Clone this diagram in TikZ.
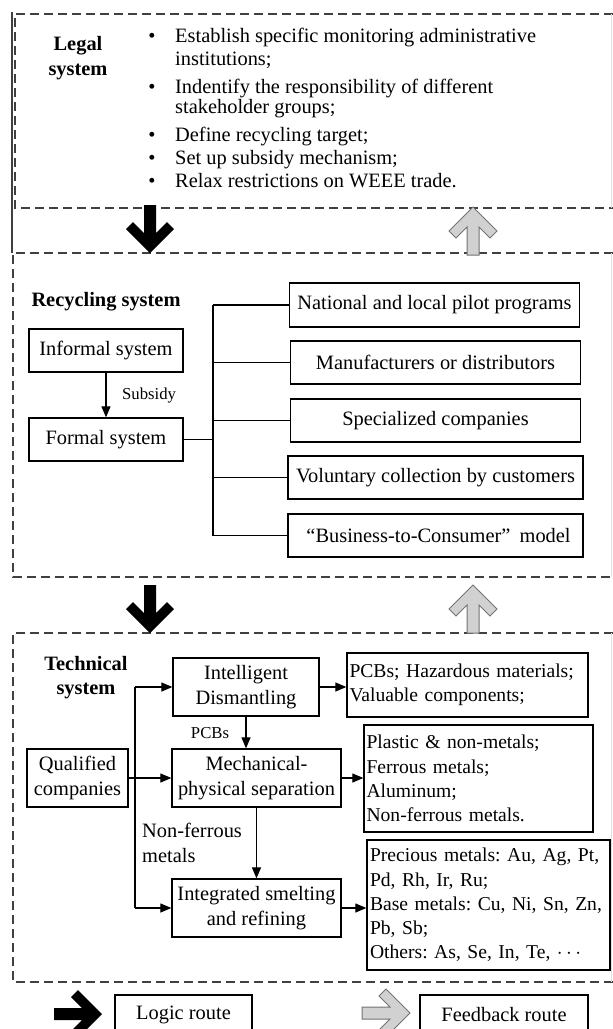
\documentclass[tikz,border=0pt]{standalone}
\usepackage{fontspec}
\setmainfont{Liberation Serif}
\usetikzlibrary{arrows.meta}
\frenchspacing
\newcommand\mainfnt{\fontsize{20.4pt}{24.3pt}\selectfont\frenchspacing}
\newcommand\listfnt{\fontsize{19.6pt}{24.3pt}\selectfont\frenchspacing}
\newcommand\smallfnt{\fontsize{16.7pt}{20pt}\selectfont}
\tikzset{
  blkarrow/.pic={\fill[black] (0,0) -- (-24,-24) -- (-17,-31) -- (-6,-20) -- (-6,-48) -- (6,-48) -- (6,-20) -- (17,-31) -- (24,-24) -- cycle;},
  gryarrow/.pic={\filldraw[fill=black!18, draw=black!55, line width=1pt] (0,0) -- (-24,-24) -- (-17,-31) -- (-6,-20) -- (-6,-48) -- (6,-48) -- (6,-20) -- (17,-31) -- (24,-24) -- cycle;}
}
\begin{document}
\begin{tikzpicture}[x=1pt,y=-1pt,
  box/.style={draw, line width=1.3pt, inner sep=0pt, align=center, font=\mainfnt},
  lbox/.style={draw, line width=1.3pt, inner ysep=0pt, inner xsep=2.5pt, align=left, font=\listfnt},
  txt/.style={inner sep=0pt, font=\mainfnt},
  btxt/.style={inner sep=0pt, font=\mainfnt\bfseries, align=center},
  lbl/.style={inner sep=0pt, font=\smallfnt},
  conn/.style={line width=1.2pt},
  arr/.style={line width=1.2pt, -{Triangle[length=11pt,width=9pt]}},
  sysframe/.style={line width=1.5pt, black!75, dash pattern=on 9pt off 5pt},
]
\useasboundingbox (0,0) rectangle (613,1029);
\begin{scope}
\clip (0,0) rectangle (613,1029);

% ---------- frames ----------
\draw[sysframe] (613,14) -- (15,14) -- (15,208) -- (613,208);
\draw[black!75, line width=1.3pt] (12,12) -- (12,253);
\draw[sysframe] (613,253) -- (13,253) -- (13,577) -- (613,577);
\draw[sysframe] (613,633) -- (13,633) -- (13,982) -- (613,982);
\draw[black!12, line width=1pt] (611,14) -- (611,208) (611,253) -- (611,577) (611,633) -- (611,982);

% ---------- legal system ----------
\node[btxt] (leg) at (78,58) {Legal\\system};
\foreach \n/\y in {b1/42.5, b2/93.5, b3/141.5, b4/164.5, b5/187.5}
  \node[txt, anchor=base] (\n) at (152,\y) {\textbullet};
\node[txt, anchor=base west] (l1) at (175,42.5) {Establish specific monitoring administrative};
\node[txt, anchor=base west] (l2) at (175,65.5) {institutions;};
\node[txt, anchor=base west] (l3) at (175,93.5) {Indentify the responsibility of different};
\node[txt, anchor=base west] (l4) at (175,113.5) {stakeholder groups;};
\node[txt, anchor=base west] (l5) at (175,141.5) {Define recycling target;};
\node[txt, anchor=base west] (l6) at (175,164.5) {Set up subsidy mechanism;};
\node[txt, anchor=base west] (l7) at (175,187.5) {Relax restrictions on WEEE trade.};

% ---------- recycling system ----------
\node[btxt] (rec) at (106,302) {Recycling system};
\node[box, minimum width=154pt, minimum height=43pt] (inf) at (106,350.5) {Informal system};
\node[box, minimum width=154pt, minimum height=43pt] (fml) at (106,439.5) {Formal system};
\node[lbl, anchor=west] (sub) at (122,396) {Subsidy};
\draw[arr] (inf.south) -- (fml.north);

\node[box, minimum width=290pt, minimum height=44pt] (nat) at (434.5,305) {National and local pilot programs};
\node[box, minimum width=290pt, minimum height=43pt] (man) at (435.5,362.5) {Manufacturers or distributors};
\node[box, minimum width=290pt, minimum height=43pt] (spc) at (435.5,420.5) {Specialized companies};
\node[box, minimum width=295pt, minimum height=43pt] (vol) at (435.5,477.5) {Voluntary collection by customers};
\node[box, minimum width=295pt, minimum height=43pt] (btc) at (435.5,535.5) {\hspace{0.3em}“Business-to-Consumer”\hspace{0.45em}model};

\coordinate (bus) at (213,0);
\draw[conn] (fml.east) -- (fml.east -| bus);
\draw[conn] (bus |- nat.west) -- (bus |- btc.west);
\foreach \b in {nat,man,spc,vol,btc}
  \draw[conn] (bus |- \b.west) -- (\b.west);

% ---------- technical system ----------
\node[btxt] (tec) at (86,677.5) {Technical\\system};
\node[box, minimum width=101pt, minimum height=58pt] (qual) at (77.5,778) {Qualified\\companies};
\node[box, minimum width=146pt, minimum height=58pt] (idm) at (246,687) {Intelligent\\Dismantling};
\node[box, minimum width=169pt, minimum height=58pt] (mech) at (256.5,778) {Mechanical-\\physical separation};
\node[box, minimum width=169pt, minimum height=58pt] (intg) at (256.5,908) {Integrated smelting\\and refining};

\node[lbox, text width=236pt, minimum height=64pt] (pcb) at (467.5,685) {\mbox{PCBs; Hazardous materials;}\\\mbox{Valuable components;}};
\node[lbox, text width=224pt, minimum height=107pt] (pla) at (478.5,778.5) {\mbox{Plastic \& non-metals;}\\\mbox{Ferrous metals;}\\\mbox{Aluminum;}\\\mbox{Non-ferrous metals.}};
\node[lbox, text width=237pt, inner xsep=3pt, minimum height=130pt] (pre) at (488.5,905) {\mbox{Precious metals: Au, Ag, Pt,}\\\mbox{Pd, Rh, Ir, Ru;}\\\mbox{Base metals: Cu, Ni, Sn, Zn,}\\\mbox{Pb, Sb;}\\\mbox{Others: As, Se, In, Te, $\cdots$}};

\node[lbl] (pcbl) at (210,733) {PCBs};
\node[txt, anchor=west, align=left] (nfm) at (142,843) {Non-ferrous\\metals};

\coordinate (trunk) at (135,0);
\draw[conn] (trunk |- idm.west) -- (trunk |- intg.west);
\draw[arr] (trunk |- idm.west) -- (idm.west);
\draw[arr] (trunk |- intg.west) -- (intg.west);
\draw[arr] (qual.east) -- (mech.west);
\draw[arr] (idm.south) -- (idm.south |- mech.north);
\draw[arr] (mech.south) -- (intg.north);
\draw[arr] (idm.east) -- (pcb.west |- idm.east);
\draw[arr] (mech.east) -- (pla.west |- mech.east);
\draw[arr] (intg.east) -- (pre.west |- intg.east);

% ---------- block arrows between systems ----------
\pic at (150,253) {blkarrow};
\pic[rotate=180] at (473,207) {gryarrow};
\pic at (150,633) {blkarrow};
\pic[rotate=180] at (473,585) {gryarrow};

% ---------- legend ----------
\pic[rotate=90] at (102,1014) {blkarrow};
\node[box, minimum width=137pt, minimum height=40pt] (lgc) at (183.5,1015) {Logic route};
\pic[rotate=90] at (410,1013) {gryarrow};
\node[box, minimum width=168pt, minimum height=40pt] (fdb) at (504,1015) {Feedback route};
\end{scope}
\end{tikzpicture}
\end{document}
